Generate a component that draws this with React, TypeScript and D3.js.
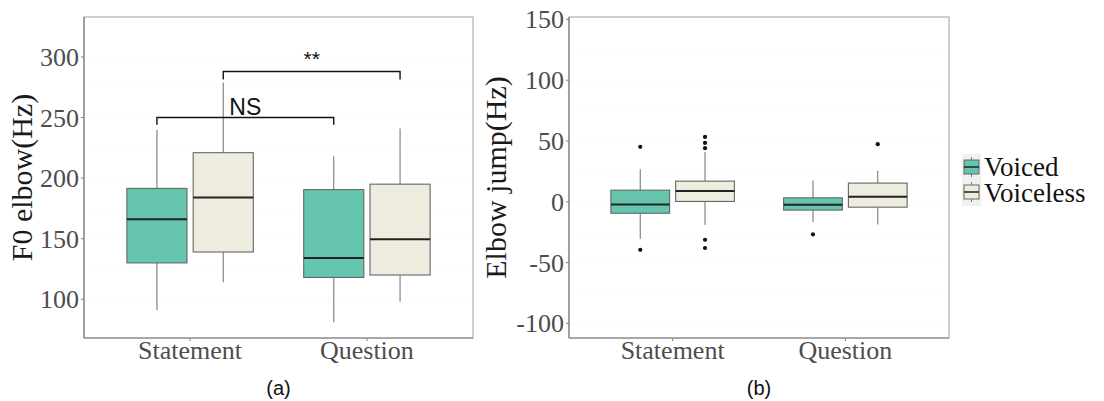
import React from "react";
import * as d3 from "d3";

const categories = ["Statement", "Question"];
const groups = ["Voiced", "Voiceless"];
const groupColors = ["#66c5ae", "#eeecdf"];

// [min, q1, median, q3, max] per category
const f0Voiced = [[91, 130, 166, 191.5, 240], [81, 118, 134, 190.5, 218]];
const f0Voiceless = [[114, 139, 184, 221, 279], [98, 120, 149.5, 195, 241]];
const f0Ticks = [100, 150, 200, 250, 300];
const f0Domain = [68, 333];

const jumpVoiced = [[-30.5, -9.4, -2.2, 9.6, 26.7], [-16.7, -6.8, -2.5, 3.3, 17.6]];
const jumpVoiceless = [[-19.1, 0.3, 9.0, 17, 41], [-18.6, -4.4, 4.1, 15.4, 25.5]];
const jumpVoicedOutliers = [[45.2, -39.5], [-26.8]];
const jumpVoicelessOutliers = [[53.4, 48.4, 44.1, -31.2, -38], [47.4]];
const jumpTicks = [-100, -50, 0, 50, 100, 150];
const jumpDomain = [-112, 152];

// significance brackets: [fromCat, fromGroup, toCat, toGroup, y, tickEnd, label]
const brackets: [number, number, number, number, number, number, string][] = [
  [0, 0, 1, 0, 250, 244, "NS"],
  [0, 1, 1, 1, 288, 281.5, "**"],
];

const serif = "'Liberation Serif', 'Times New Roman', serif";
const sans = "'Liberation Sans', Arial, sans-serif";

type PanelProps = {
  left: number; right: number; top: number; bottom: number;
  domain: number[]; ticks: number[];
  stats: number[][][]; outliers?: number[][][];
  title: string; titleX: number; caption: string;
  brackets?: typeof brackets;
};

function Panel(p: PanelProps) {
  const x = d3.scalePoint<string>().domain(categories).range([p.left, p.right]).padding(0.6);
  const y = d3.scaleLinear().domain(p.domain).range([p.bottom, p.top]);
  const step = x.step();
  const off = 0.1875 * step;
  const hw = 0.17 * step;
  const gx = (c: number, g: number) => (x(categories[c]) as number) + (g === 0 ? -off : off);
  const minor: number[] = [];
  for (let i = 0; i < p.ticks.length - 1; i++) minor.push((p.ticks[i] + p.ticks[i + 1]) / 2);
  const cx = (p.left + p.right) / 2;
  const cy = (p.top + p.bottom) / 2;
  return (
    <g>
      {[...p.ticks, ...minor].map((t, i) => (
        <line key={"g" + i} x1={p.left} x2={p.right} y1={y(t)} y2={y(t)} stroke="#f6f6f6" strokeDasharray="2,4" />
      ))}
      {p.stats.map((gs, g) =>
        gs.map((s, c) => {
          const xc = gx(c, g);
          return (
            <g key={`b${g}${c}`}>
              <line x1={xc} x2={xc} y1={y(s[4])} y2={y(s[3])} stroke="#7a7a7a" strokeWidth={1.1} />
              <line x1={xc} x2={xc} y1={y(s[1])} y2={y(s[0])} stroke="#7a7a7a" strokeWidth={1.1} />
              <rect x={xc - hw} width={2 * hw} y={y(s[3])} height={y(s[1]) - y(s[3])} fill={groupColors[g]} stroke="#666" strokeWidth={1.1} />
              <line x1={xc - hw} x2={xc + hw} y1={y(s[2])} y2={y(s[2])} stroke="#222" strokeWidth={2} />
              {(p.outliers ? p.outliers[g][c] : []).map((o, k) => (
                <circle key={k} cx={xc} cy={y(o)} r={2.1} fill="#111" />
              ))}
            </g>
          );
        })
      )}
      {(p.brackets || []).map((b, i) => {
        const x1 = gx(b[0], b[1]);
        const x2 = gx(b[2], b[3]);
        return (
          <g key={"br" + i}>
            <path d={`M${x1},${y(b[5])}V${y(b[4])}H${x2}V${y(b[5])}`} fill="none" stroke="#111" strokeWidth={1.4} />
            <text x={(x1 + x2) / 2} y={y(b[4]) - (b[6] === "NS" ? 3 : 6)} textAnchor="middle" fontFamily={sans} fontSize={b[6] === "NS" ? 23 : 21} fill="#111">{b[6]}</text>
          </g>
        );
      })}
      <rect x={p.left} y={p.top} width={p.right - p.left} height={p.bottom - p.top} fill="none" stroke="#a0a0a0" strokeWidth={1} />
      <line x1={p.left} x2={p.left} y1={p.top} y2={p.bottom} stroke="#808080" strokeWidth={1.2} />
      <line x1={p.left} x2={p.right} y1={p.bottom} y2={p.bottom} stroke="#808080" strokeWidth={1.2} />
      {p.ticks.map((t) => (
        <g key={"t" + t}>
          <line x1={p.left - 3} x2={p.left} y1={y(t)} y2={y(t)} stroke="#808080" />
          <text x={p.left - 5} y={y(t) + 9} textAnchor="end" fontFamily={serif} fontSize={26} fill="#4d4d4d">{t}</text>
        </g>
      ))}
      {categories.map((c) => (
        <g key={c}>
          <line x1={x(c)} x2={x(c)} y1={p.bottom} y2={p.bottom + 3} stroke="#808080" />
          <text x={x(c)} y={359} textAnchor="middle" fontFamily={serif} fontSize={26} fill="#4d4d4d">{c}</text>
        </g>
      ))}
      <text transform={`translate(${p.titleX},${cy}) rotate(-90)`} textAnchor="middle" fontFamily={serif} fontSize={30} fill="#1a1a1a">{p.title}</text>
      <text x={cx} y={395} textAnchor="middle" fontFamily={sans} fontSize={20} fill="#111">{p.caption}</text>
    </g>
  );
}

export default function App() {
  const legendItems = groups.map((g, i) => ({ g, i }));
  return (
    <svg width={1104} height={401} style={{ position: "absolute", left: 0, top: 0, background: "#fff" }}>
      <Panel left={84} right={473} top={17} bottom={338} domain={f0Domain} ticks={f0Ticks}
        stats={[f0Voiced, f0Voiceless]} title="F0 elbow(Hz)" titleX={32} caption="(a)" brackets={brackets} />
      <Panel left={569} right={949} top={17} bottom={338} domain={jumpDomain} ticks={jumpTicks}
        stats={[jumpVoiced, jumpVoiceless]} outliers={[jumpVoicedOutliers, jumpVoicelessOutliers]}
        title="Elbow jump(Hz)" titleX={506} caption="(b)" />
      <g>
        <rect x={962} y={154} width={19} height={52} fill="#f0f0f0" />
        {legendItems.map(({ g, i }) => {
          const top = 157 + i * 25;
          return (
            <g key={g}>
              <line x1={971.5} x2={971.5} y1={top} y2={top + 20} stroke="#7a7a7a" />
              <rect x={964} y={top + 3} width={15} height={14} fill={groupColors[i]} stroke="#666" />
              <line x1={964} x2={979} y1={top + 10} y2={top + 10} stroke="#222" strokeWidth={1.5} />
              <text x={984} y={176 + i * 26} fontFamily={serif} fontSize={27} fill="#111">{g}</text>
            </g>
          );
        })}
      </g>
    </svg>
  );
}
